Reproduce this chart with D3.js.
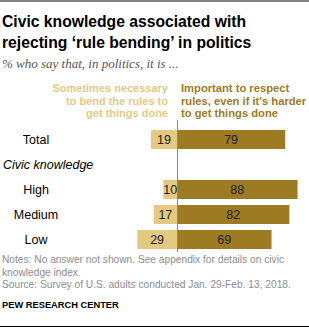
<!DOCTYPE html>
<html>
<head>
<meta charset="utf-8">
<script src="https://cdn.jsdelivr.net/npm/d3@7"></script>
<style>
  body { margin: 0; background: #fff; }
  svg { display: block; font-family: "Liberation Sans Narrow", "Liberation Sans", Arial, sans-serif; }
</style>
</head>
<body>
<div id="chart"></div>
<script>
// data
var rows = ["Total", "gap", "High", "Medium", "Low"];
var groups = ["Total", "High", "Medium", "Low"];
var bendRules = [19, 10, 17, 29];
var respectRules = [79, 88, 82, 69];

var width = 309, height = 328;
var lightGold = "#e3c982", darkGold = "#9c7b22";

var svg = d3.select("#chart").append("svg")
  .attr("width", width)
  .attr("height", height);

// rules top and bottom
svg.append("line").attr("x1", 0).attr("x2", width).attr("y1", 1).attr("y2", 1)
  .attr("stroke", "#000").attr("stroke-width", 1);
svg.append("line").attr("x1", 0).attr("x2", width).attr("y1", 326.5).attr("y2", 326.5)
  .attr("stroke", "#000").attr("stroke-width", 1);

// title
var title = svg.append("text").attr("x", 2).attr("y", 27)
  .attr("font-size", 15.7).attr("font-weight", "bold").attr("fill", "#000");
title.append("tspan").attr("x", 2).text("Civic knowledge associated with");
title.append("tspan").attr("x", 2).attr("dy", 21).text("rejecting \u2018rule bending\u2019 in politics");

svg.append("text").attr("x", 2).attr("y", 68)
  .attr("font-family", "Liberation Serif, Georgia, serif")
  .attr("font-style", "italic").attr("font-size", 13).attr("fill", "#555")
  .text("% who say that, in politics, it is ...");

// scales
var x0 = 177;
var xRight = d3.scaleLinear().domain([0, 100]).range([x0, x0 + 137]);
var xLeft = d3.scaleLinear().domain([0, 100]).range([x0, x0 - 137]);
var y = d3.scaleBand().domain(rows).range([130, 130 + 25 * 4.76])
  .paddingInner(0.24).paddingOuter(0);

// column headers
var headL = svg.append("text").attr("text-anchor", "end")
  .attr("font-size", 11).attr("font-weight", "bold").attr("fill", lightGold);
["Sometimes necessary", "to bend the rules to", "get things done"].forEach(function (t, i) {
  headL.append("tspan").attr("x", 168).attr("y", 92 + i * 12.5).text(t);
});
var headR = svg.append("text").attr("text-anchor", "start")
  .attr("font-size", 11.2).attr("font-weight", "bold").attr("fill", darkGold);
["Important to respect", "rules, even if it's harder", "to get things done"].forEach(function (t, i) {
  headR.append("tspan").attr("x", 181).attr("y", 92 + i * 12.5).text(t);
});

// bars
var g = svg.append("g");
g.selectAll("rect.left")
  .data(groups)
  .enter().append("rect")
  .attr("class", "left")
  .attr("x", function (d, i) { return xLeft(bendRules[i]); })
  .attr("y", function (d) { return y(d); })
  .attr("width", function (d, i) { return x0 - xLeft(bendRules[i]); })
  .attr("height", y.bandwidth())
  .attr("fill", lightGold);

g.selectAll("rect.right")
  .data(groups)
  .enter().append("rect")
  .attr("class", "right")
  .attr("x", x0)
  .attr("y", function (d) { return y(d); })
  .attr("width", function (d, i) { return xRight(respectRules[i]) - x0; })
  .attr("height", y.bandwidth())
  .attr("fill", darkGold);

// value labels
g.selectAll("text.lv")
  .data(groups)
  .enter().append("text")
  .attr("class", "lv")
  .attr("x", function (d, i) { return (xLeft(bendRules[i]) + x0) / 2; })
  .attr("y", function (d) { return y(d) + y.bandwidth() / 2 + 4.5; })
  .attr("text-anchor", "middle").attr("font-size", 12.5).attr("fill", "#222")
  .text(function (d, i) { return bendRules[i]; });

g.selectAll("text.rv")
  .data(groups)
  .enter().append("text")
  .attr("class", "rv")
  .attr("x", function (d, i) { return (xRight(respectRules[i]) + x0) / 2; })
  .attr("y", function (d) { return y(d) + y.bandwidth() / 2 + 4.5; })
  .attr("text-anchor", "middle").attr("font-size", 12.5).attr("fill", "#222")
  .text(function (d, i) { return respectRules[i]; });

// category labels
g.selectAll("text.cat")
  .data(groups)
  .enter().append("text")
  .attr("class", "cat")
  .attr("x", 36)
  .attr("y", function (d) { return y(d) + y.bandwidth() / 2 + 4.5; })
  .attr("text-anchor", "middle").attr("font-size", 12.5).attr("fill", "#000")
  .text(function (d) { return d; });

svg.append("text").attr("x", 3).attr("y", y("gap") + y.bandwidth() / 2 + 4.5)
  .attr("font-style", "italic").attr("font-size", 12.5).attr("fill", "#000")
  .text("Civic knowledge");

// center axis line
svg.append("line").attr("x1", x0 + 0.5).attr("x2", x0 + 0.5)
  .attr("y1", 120).attr("y2", 252)
  .attr("stroke", "#888").attr("stroke-width", 1);

// notes
var notes = svg.append("text").attr("font-size", 10.2).attr("fill", "#8c8c8c");
["Notes: No answer not shown. See appendix for details on civic",
 "knowledge index.",
 "Source: Survey of U.S. adults conducted Jan. 29-Feb. 13, 2018."].forEach(function (t, i) {
  notes.append("tspan").attr("x", 2).attr("y", 263 + i * 12.5).text(t);
});

svg.append("text").attr("x", 2).attr("y", 308)
  .attr("font-size", 9.3).attr("font-weight", "bold").attr("fill", "#000")
  .text("PEW RESEARCH CENTER");
</script>
</body>
</html>
